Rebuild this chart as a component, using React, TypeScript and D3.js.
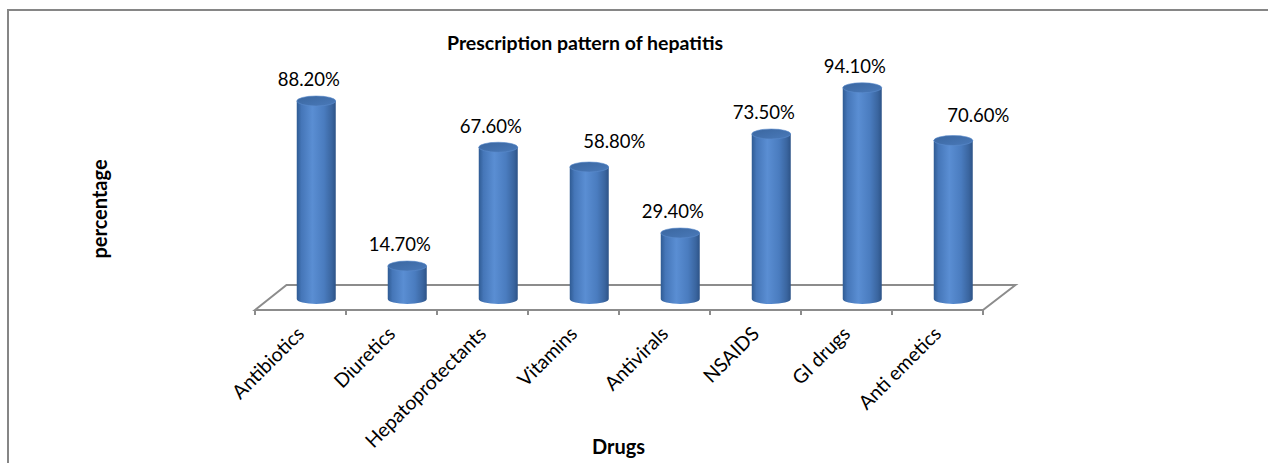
import React from "react";
import * as d3 from "d3";

const categories = ["Antibiotics", "Diuretics", "Hepatoprotectants", "Vitamins", "Antivirals", "NSAIDS", "GI drugs", "Anti emetics"];
const values = [88.2, 14.7, 67.6, 58.8, 29.4, 73.5, 94.1, 70.6];
const valueLabels = ["88.20%", "14.70%", "67.60%", "58.80%", "29.40%", "73.50%", "94.10%", "70.60%"];
const title = "Prescription pattern of hepatitis";
const xTitle = "Drugs";
const yTitle = "percentage";

// layout
const W = 1268, H = 463;
const floorFrontY = 310, floorBackY = 285;
const depthDx = 31.5;
const barW = 39, ry = 5;
const shiftedLabels = new Set(["Vitamins", "Anti emetics"]);
const font = "Lato, 'Open Sans', sans-serif";

export default function App() {
  const x = d3.scaleBand<string>().domain(categories).range([255, 983]).padding(0);
  const y = d3.scaleLinear().domain([0, 100]).range([299, 74.5]);
  const bw = x.bandwidth();
  const ticks = [...categories.map((c) => x(c) as number), 983];

  return (
    <svg width={W} height={H} style={{ position: "absolute", left: 0, top: 0, background: "#fff" }}>
      <defs>
        <linearGradient id="cyl" x1="0" x2="1" y1="0" y2="0">
          <stop offset="0" stopColor="#2f5b93" />
          <stop offset="0.12" stopColor="#4576b8" />
          <stop offset="0.4" stopColor="#5a8ed3" />
          <stop offset="0.7" stopColor="#4a7cbf" />
          <stop offset="0.9" stopColor="#3a659f" />
          <stop offset="1" stopColor="#2d5387" />
        </linearGradient>
        <linearGradient id="cap" x1="0" x2="1" y1="0" y2="1">
          <stop offset="0" stopColor="#3a669f" />
          <stop offset="1" stopColor="#4a7aba" />
        </linearGradient>
      </defs>
      <rect x={8} y={10} width={1300} height={500} fill="none" stroke="#868686" strokeWidth={2} />

      {/* floor */}
      <path
        d={`M${x.range()[0]},${floorFrontY} L${x.range()[0] + depthDx},${floorBackY} L${x.range()[1] + depthDx + 1},${floorBackY} L${x.range()[1]},${floorFrontY} Z`}
        fill="none"
        stroke="#8c8c8c"
        strokeWidth={2}
      />
      {ticks.map((t, i) => (
        <line key={i} x1={t} x2={t} y1={floorFrontY} y2={floorFrontY + 5} stroke="#8c8c8c" strokeWidth={2} />
      ))}

      {/* bars */}
      {categories.map((c, i) => {
        const cx = (x(c) as number) + bw / 2 + depthDx / 2;
        const base = y(0);
        const top = y(values[i]);
        const l = cx - barW / 2, r = cx + barW / 2;
        return (
          <g key={c}>
            <path
              d={`M${l},${top} L${l},${base} A${barW / 2},${ry} 0 0 0 ${r},${base} L${r},${top} Z`}
              fill="url(#cyl)"
            />
            <ellipse cx={cx} cy={top} rx={barW / 2} ry={ry} fill="url(#cap)" stroke="#5a8ccc" strokeWidth={0.6} />
          </g>
        );
      })}

      {/* value labels */}
      {categories.map((c, i) => {
        const cx = (x(c) as number) + bw / 2 + depthDx / 2;
        const shifted = shiftedLabels.has(c);
        return (
          <text
            key={c}
            x={cx + (shifted ? 25 : -7.5)}
            y={y(values[i]) - (shifted ? 18.5 : 14.5)}
            textAnchor="middle"
            fontFamily={font}
            fontSize={18.5}
            fill="#000"
          >
            {valueLabels[i]}
          </text>
        );
      })}

      {/* category labels */}
      {categories.map((c) => {
        const ax = (x(c) as number) + bw / 2 + 5;
        const ay = 335;
        return (
          <text
            key={c}
            transform={`translate(${ax},${ay}) rotate(-45)`}
            textAnchor="end"
            fontFamily={font}
            fontSize={19.5}
            fill="#000"
          >
            {c}
          </text>
        );
      })}

      <text x={585} y={50} textAnchor="middle" fontFamily={font} fontWeight="bold" fontSize={19.5} fill="#000">
        {title}
      </text>
      <text x={618.5} y={454} textAnchor="middle" fontFamily={font} fontWeight="bold" fontSize={20} fill="#000">
        {xTitle}
      </text>
      <text
        transform={`translate(107,209) rotate(-90)`}
        textAnchor="middle"
        fontFamily={font}
        fontWeight="bold"
        fontSize={20}
        fill="#000"
      >
        {yTitle}
      </text>
    </svg>
  );
}
